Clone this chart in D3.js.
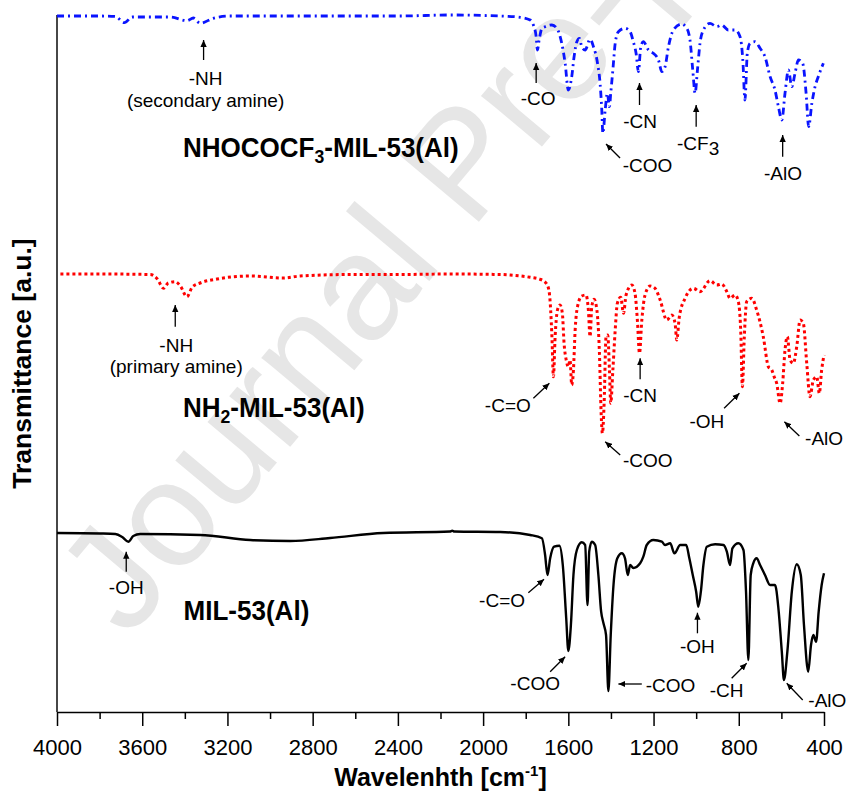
<!DOCTYPE html>
<html>
<head>
<meta charset="utf-8">
<script src="https://cdn.jsdelivr.net/npm/d3@7"></script>
<style>
  html, body { margin: 0; padding: 0; background: #fff; }
  svg { display: block; font-family: "Liberation Sans", Arial, Helvetica, sans-serif; }
</style>
</head>
<body>
<svg id="chart" width="846" height="791"></svg>
<script>
// FTIR spectra of MIL-53(Al) and its amine / trifluoroacetamide derivatives.
// Transmittance is in arbitrary units; each trace carries its own vertical offset.

// ---- MIL-53(Al) ----
const wnMIL = [4000, 3797, 3726, 3694, 3665, 3642, 3609, 3328, 3093, 2905, 2718, 2469, 2155, 2145, 2135, 1920, 1779,
  1724, 1709, 1698, 1685, 1667, 1642, 1626, 1610, 1600, 1588, 1576, 1560, 1537, 1521, 1510, 1502, 1490, 1474,
  1459, 1446, 1435, 1423, 1412, 1401, 1388, 1370, 1349, 1334, 1321, 1310, 1295, 1263, 1248, 1232, 1201, 1161,
  1146, 1122, 1102, 1075, 1047, 1032, 1016, 1000, 990, 978, 966, 950, 911, 872, 856, 841, 830, 802, 778, 766,
  755, 744, 732, 716, 700, 677, 653, 630, 614, 598, 588, 572, 551, 528, 509, 494, 474, 461, 450, 437, 425, 411, 400];
const tMIL = [179, 178.5, 178, 175, 170.3, 176, 178, 177, 172, 171, 174, 179, 180.5, 181.3, 180.5, 180, 177,
  173.7, 157, 137, 154, 165.3, 166.3, 147, 94, 61, 87, 137, 162, 169.7, 167, 107, 160.3, 170.3, 167,
  137, 100.3, 88.7, 77, 21, 77, 127, 153.7, 158.7, 153.7, 137, 147, 144, 148.7, 155.3, 167, 172, 170.3,
  167, 168.7, 158.7, 167, 167, 153.7, 137, 120.3, 105.3, 120.3, 147, 165.3, 167.7, 167, 160.3, 147, 163.7, 168.7, 162, 120.3,
  52, 137, 148.7, 153.7, 147, 137, 127, 127, 103.7, 60.3, 32, 60.3, 120.3, 147.7, 137, 87, 40.3, 67, 77, 70.3, 100.3, 127, 138.7];

// ---- NH2-MIL-53(Al) ----
const wnNH2 = [3984, 3797, 3562, 3529, 3500, 3478, 3445, 3421, 3390, 3365, 3328, 3249, 3093, 2938, 2858, 2624, 2389,
  2155, 1920, 1873, 1779, 1732, 1701, 1689, 1677, 1670, 1662, 1651, 1639, 1628, 1620, 1610, 1600, 1592, 1584,
  1576, 1568, 1557, 1537, 1517, 1506, 1498, 1490, 1479, 1466, 1454, 1446, 1440, 1432, 1423, 1415, 1407, 1401,
  1391, 1380, 1370, 1354, 1341, 1329, 1302, 1287, 1276, 1266, 1255, 1240, 1216, 1193, 1169, 1138, 1114, 1099,
  1091, 1079, 1052, 1013, 982, 935, 903, 880, 856, 841, 817, 802, 791, 783, 774, 763, 739, 716, 685, 661, 645,
  634, 622, 606, 594, 583, 572, 559, 544, 528, 512, 497, 481, 466, 450, 434, 422, 411, 400];
const tNH2 = [438, 438, 437.5, 433, 423.7, 429, 430.3, 426, 415.3, 425, 429, 433, 436, 434, 436, 437.5, 437.5,
  438, 437.5, 437, 434.7, 432.7, 428, 418.7, 375.3, 335.3, 375.3, 402, 407, 398.7, 368.7, 352, 345.3, 352, 327,
  342, 382, 405.3, 416, 417, 402, 375.3, 405.3, 412.7, 402, 358.7, 298.7, 278.7, 308.7, 375.3, 377, 342, 308.7,
  342, 382, 408.7, 414.7, 398.7, 417, 427, 418.7, 392, 358.7, 392, 417, 426, 423.7, 412, 392, 397, 388.7,
  372, 395.3, 413.7, 423.7, 420.3, 431.3, 427, 428, 420.3, 413.7, 417, 410.3, 382, 325.3, 375.3, 410.3, 413.7, 402, 375.3, 345.3, 342,
  335.3, 328.7, 308.7, 328.7, 362, 375.3, 352, 348.7, 365.3, 392, 388.7, 348.7, 315.3, 332, 335.3, 318.7, 342, 357];

// ---- NHOCOCF3-MIL-53(Al) ----
const wnCF3 = [4000, 3797, 3726, 3684, 3647, 3468, 3390, 3360, 3328, 3267, 3187, 2858, 2389, 2155, 1920, 1826, 1779,
  1764, 1751, 1745, 1737, 1724, 1709, 1677, 1654, 1631, 1615, 1600, 1584, 1573, 1560, 1548, 1537, 1521, 1498,
  1482, 1463, 1451, 1443, 1438, 1427, 1417, 1407, 1401, 1391, 1380, 1365, 1334, 1310, 1295, 1282, 1271, 1260,
  1248, 1224, 1201, 1177, 1161, 1146, 1130, 1107, 1068, 1044, 1029, 1016, 1005, 994, 982, 966, 935, 903, 880,
  849, 817, 794, 781, 771, 760, 747, 724, 700, 677, 653, 630, 614, 598, 583, 567, 551, 536, 520, 500, 484, 472,
  457, 442, 427, 403];
const tCF3 = [696, 696, 695.5, 689.3, 695, 695, 691.3, 694, 688.7, 693.7, 696, 696, 696, 697, 696, 694.7, 692,
  687, 675.3, 662, 672, 683.7, 685.3, 687, 683.7, 668.7, 648.7, 622, 635.3, 655.3, 670.3, 673.7, 665.3, 662, 672.7,
  665.3, 648.7, 628.7, 602, 578.7, 602, 618.7, 605.3, 618.7, 642, 668.7, 680.3, 683.7, 680.3, 670.3, 658.7, 640.3, 665.3,
  670.3, 662, 658.7, 652, 640.3, 645.3, 665.3, 682, 688, 683.7, 672, 642, 618.7, 642, 668.7, 682, 688.7, 685.3, 687,
  682, 682, 675.3, 652, 612, 658.7, 668.7, 670.3, 663.7, 655.3, 635.3, 622, 605.3, 592, 618.7, 642, 625.3, 638.7, 652, 648.7, 618.7, 585.3,
  608.7, 625.3, 635.3, 648.7];

// Tick values of the wavenumber axis
const majorTicks = [4000, 3600, 3200, 2800, 2400, 2000, 1600, 1200, 800, 400];
const minorTicks = [3800, 3400, 3000, 2600, 2200, 1800, 1400, 1000, 600];

// Peak assignments: arrow tip on the spectrum (wavenumber, a.u.),
// tail and text offsets in px relative to the tip.
const notesMIL = [
  { label: ["-OH"], w: 3675, t: 160.3, tail: [0, 20], text: [0, 42.3], anchor: "middle" },
  { label: ["-C=O"], w: 1714, t: 132.7, tail: [-15.7, 13.4], text: [-19, 28], anchor: "end" },
  { label: ["-COO"], w: 1615, t: 55.3, tail: [-15, 15], text: [-30, 33.3], anchor: "middle" },
  { label: ["-COO"], w: 1365, t: 28, tail: [23.4, 0], text: [27.4, 8.3], anchor: "start" },
  { label: ["-OH"], w: 994, t: 99.3, tail: [0, 20.6], text: [0, 40.6], anchor: "middle" },
  { label: ["-CH"], w: 763, t: 48.7, tail: [-15, 15], text: [-20, 33.4], anchor: "middle" },
  { label: ["-AlO"], w: 575, t: 28.7, tail: [16, 16.7], text: [21.6, 23.4], anchor: "start" }
];
const notesNH2 = [
  { label: ["-NH", "(primary amine)"], w: 3445, t: 407, tail: [0, 21.7], text: [1, 46.7], anchor: "middle" },
  { label: ["-C=O"], w: 1689, t: 328.7, tail: [-16, 15], text: [-18.6, 28.4], anchor: "end" },
  { label: ["-COO"], w: 1427, t: 270.3, tail: [15, 13.3], text: [17.7, 25.6], anchor: "start" },
  { label: ["-CN"], w: 1263, t: 353.7, tail: [0, 21], text: [0, 43.4], anchor: "middle" },
  { label: ["-OH"], w: 797, t: 318.7, tail: [-15.3, 15], text: [-32.6, 35], anchor: "middle" },
  { label: ["-AlO"], w: 586, t: 290.3, tail: [15, 14.3], text: [20.7, 23.3], anchor: "start" }
];
const notesCF3 = [
  { label: ["-NH", "(secondary amine)"], w: 3312, t: 672, tail: [0, 20], text: [2, 45], anchor: "middle" },
  { label: ["-CO"], w: 1751, t: 649, tail: [0, 20], text: [2, 42], anchor: "middle" },
  { label: ["-COO"], w: 1423, t: 568, tail: [14, 14], text: [16.7, 27.7], anchor: "start" },
  { label: ["-CN"], w: 1266, t: 629, tail: [0, 22], text: [0.7, 45], anchor: "middle" },
  { label: ["-CF", "3"], w: 1000, t: 607, tail: [0, 21.7], text: [2, 45], anchor: "middle", sub: true },
  { label: ["-AlO"], w: 594, t: 577, tail: [0, 21.7], text: [0.3, 45], anchor: "middle" }
];

const series = [
  { name: ["MIL-53(Al)"], wn: wnMIL, t: tMIL, color: "#000000", dash: null, width: 2.4,
    labelAt: [3406, 92], notes: notesMIL },
  { name: ["NH", "2", "-MIL-53(Al)"], wn: wnNH2, t: tNH2, color: "#ff0000", dash: "3,3", width: 3,
    labelAt: [3409, 295.3], notes: notesNH2 },
  { name: ["NHOCOCF", "3", "-MIL-53(Al)"], wn: wnCF3, t: tCF3, color: "#0a14ff", dash: "7,4,2,4", width: 2.8,
    labelAt: [3409, 555.3], notes: notesCF3 }
];

const svg = d3.select("#chart");
const margin = { left: 57, right: 22, top: 15, bottom: 79 };
const W = 846, H = 791;
const x = d3.scaleLinear().domain([4000, 400]).range([margin.left, W - margin.right]);
const y = d3.scaleLinear().domain([0, 697]).range([H - margin.bottom, margin.top]);

// Watermark
svg.append("text")
  .attr("transform", "translate(128,640) rotate(-50)")
  .attr("font-size", 150)
  .attr("fill", "#e6e6e6")
  .text("Journal Pre-proof");

// Arrowhead
svg.append("defs").append("marker")
  .attr("id", "head")
  .attr("viewBox", "0 0 10 10")
  .attr("refX", 10).attr("refY", 5)
  .attr("markerWidth", 7).attr("markerHeight", 7)
  .attr("markerUnits", "userSpaceOnUse")
  .attr("orient", "auto")
  .append("path").attr("d", "M0,0.5 L10,5 L0,9.5 Z").attr("fill", "#000");

// Axes
const plotBottom = y(0);
const xMajor = d3.axisBottom(x).tickValues(majorTicks).tickSize(14).tickSizeOuter(0).tickPadding(13)
  .tickFormat(d3.format("d"));
const xMinor = d3.axisBottom(x).tickValues(minorTicks).tickSize(7).tickSizeOuter(0).tickFormat("");

const gMinor = svg.append("g").attr("transform", `translate(0,${plotBottom})`).call(xMinor);
gMinor.select(".domain").remove();
const gMajor = svg.append("g").attr("transform", `translate(0,${plotBottom})`).call(xMajor);
gMajor.selectAll("line, path").attr("stroke", "#000").attr("stroke-width", 1.5);
gMinor.selectAll("line").attr("stroke", "#000").attr("stroke-width", 1.5);
gMajor.selectAll("text").attr("font-size", 22).attr("fill", "#000")
  .attr("font-family", "'Liberation Sans', Arial, sans-serif");

svg.append("line")
  .attr("x1", x(4000)).attr("x2", x(4000))
  .attr("y1", y(697)).attr("y2", plotBottom)
  .attr("stroke", "#333").attr("stroke-width", 1.8);

// Axis titles
const xt = svg.append("text")
  .attr("x", (x.range()[0] + x.range()[1]) / 2).attr("y", 786)
  .attr("text-anchor", "middle").attr("font-weight", "bold").attr("font-size", 25);
xt.append("tspan").text("Wavelenhth [cm");
xt.append("tspan").attr("font-size", 15).attr("dy", -10).text("-1");
xt.append("tspan").attr("dy", 10).text("]");

svg.append("text")
  .attr("transform", `translate(31,${(y(0) + y(697)) / 2}) rotate(-90)`)
  .attr("text-anchor", "middle").attr("font-weight", "bold").attr("font-size", 26.5)
  .text("Transmittance [a.u.]");

// Spectra
const line = d3.line().x(d => x(d[0])).y(d => y(d[1])).curve(d3.curveMonotoneX);

series.forEach(s => {
  const pts = s.wn.map((w, i) => [w, s.t[i]]);
  svg.append("path")
    .datum(pts)
    .attr("d", line)
    .attr("fill", "none")
    .attr("stroke", s.color)
    .attr("stroke-width", s.width)
    .attr("stroke-linejoin", "round")
    .attr("stroke-dasharray", s.dash);

  // Sample name
  const lbl = svg.append("text")
    .attr("transform", `translate(${x(s.labelAt[0])},${y(s.labelAt[1])}) scale(0.93,1)`)
    .attr("font-weight", "bold").attr("font-size", 28).attr("fill", "#000");
  if (s.name.length === 1) {
    lbl.text(s.name[0]);
  } else {
    lbl.append("tspan").text(s.name[0]);
    lbl.append("tspan").attr("font-size", 19).attr("dy", 6).text(s.name[1]);
    lbl.append("tspan").attr("dy", -6).text(s.name[2]);
  }

  // Peak assignments
  s.notes.forEach(n => {
    const tx = x(n.w), ty = y(n.t);
    svg.append("line")
      .attr("x1", tx + n.tail[0]).attr("y1", ty + n.tail[1])
      .attr("x2", tx).attr("y2", ty)
      .attr("stroke", "#000").attr("stroke-width", 1.3)
      .attr("marker-end", "url(#head)");
    const t = svg.append("text")
      .attr("x", tx + n.text[0]).attr("y", ty + n.text[1])
      .attr("text-anchor", n.anchor)
      .attr("font-size", 19).attr("fill", "#000");
    if (n.sub) {
      t.append("tspan").text(n.label[0]);
      t.append("tspan").attr("dy", 5).text(n.label[1]);
    } else {
      n.label.forEach((l, i) => {
        t.append("tspan").attr("x", tx + n.text[0]).attr("dy", i === 0 ? 0 : 21.5).text(l);
      });
    }
  });
});
</script>
</body>
</html>
